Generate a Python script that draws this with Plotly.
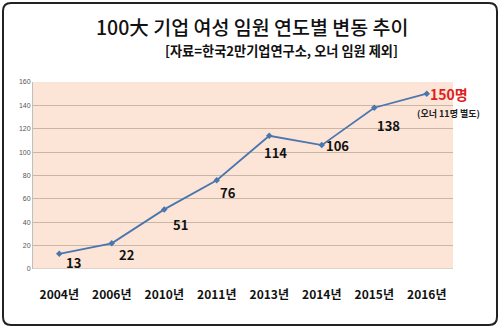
import plotly.graph_objects as go

years = ["2004년", "2006년", "2010년", "2011년", "2013년", "2014년", "2015년", "2016년"]
counts = [13, 22, 51, 76, 114, 106, 138, 150]
label_texts = ["13", "22", "51", "76", "114", "106", "138", "150명"]
title_text = "100大 기업 여성 임원 연도별 변동 추이"
subtitle_text = "[자료=한국2만기업연구소, 오너 임원 제외]"
note_text = "(오너 11명 별도)"
y_ticks = [0, 20, 40, 60, 80, 100, 120, 140, 160]

# label pixel offsets (style)
label_dx = [14, 15, 16, 11, 6, 16, 14, 22]
label_dy = [9, 11, 15, 12, 17, 0, 18, 0]

W, H = 500, 328
L, R, T, B = 33, 47, 82, 59
pw, ph = W - L - R, H - T - B

fig = go.Figure()
fig.add_trace(go.Scatter(
    x=list(range(len(years))), y=counts, mode="lines+markers",
    line=dict(color="#4A76B0", width=1.8),
    marker=dict(symbol="diamond", size=5, color="#4A76B0"),
    hoverinfo="skip", showlegend=False,
))

annotations = []
for i, (v, t) in enumerate(zip(counts, label_texts)):
    last = i == len(counts) - 1
    annotations.append(dict(
        x=i, y=v, xref="x", yref="y", text=t, showarrow=False,
        xshift=label_dx[i], yshift=-label_dy[i],
        font=dict(family="Noto Sans CJK KR", size=14 if last else 13,
                  color="#E02020" if last else "#111111", weight="bold"),
    ))
annotations.append(dict(
    x=len(counts) - 1, y=counts[-1], xref="x", yref="y", text=note_text,
    showarrow=False, xshift=22, yshift=-20,
    font=dict(family="Noto Sans CJK KR", size=9, color="#222222", weight="bold"),
))
annotations.append(dict(
    x=(252 - L) / pw, y=(H - B - 27) / ph, xref="paper", yref="paper",
    xanchor="center", yanchor="middle",
    text=title_text, showarrow=False,
    font=dict(family="Noto Sans CJK KR", size=19.5, color="#111111", weight=500),
))
annotations.append(dict(
    x=(281 - L) / pw, y=(H - B - 50) / ph, xref="paper", yref="paper",
    xanchor="center", yanchor="middle",
    text=subtitle_text, showarrow=False,
    font=dict(family="Noto Sans CJK KR", size=13.2, color="#111111", weight="bold"),
))

# rounded outer frame
x0p, x1p = (3 - L) / pw, (497 - L) / pw
y0p, y1p = (H - B - 325) / ph, (H - B - 3) / ph
rx, ry = 8 / pw, 8 / ph
path = (f"M {x0p+rx},{y1p} L {x1p-rx},{y1p} Q {x1p},{y1p} {x1p},{y1p-ry} "
        f"L {x1p},{y0p+ry} Q {x1p},{y0p} {x1p-rx},{y0p} L {x0p+rx},{y0p} "
        f"Q {x0p},{y0p} {x0p},{y0p+ry} L {x0p},{y1p-ry} Q {x0p},{y1p} {x0p+rx},{y1p} Z")

fig.update_layout(
    width=W, height=H, margin=dict(l=L, r=R, t=T, b=B),
    paper_bgcolor="white", plot_bgcolor="#FCE5D6",
    annotations=annotations,
    shapes=[dict(type="path", path=path, xref="paper", yref="paper",
                 line=dict(color="#222222", width=2), layer="above")],
    xaxis=dict(range=[-0.5, len(years) - 0.5], tickmode="array",
               tickvals=list(range(len(years))), ticktext=years,
               showgrid=False, zeroline=False, showline=False, ticks="",
               tickfont=dict(family="Noto Sans CJK KR", size=12, color="#111111", weight="bold"),
               ticklabelstandoff=17),
    yaxis=dict(range=[0, 160], tickvals=y_ticks, showgrid=True,
               gridcolor="#C9B7A6", gridwidth=1, zeroline=False,
               showline=True, linecolor="#BFBFBF", linewidth=1, ticks="",
               tickfont=dict(family="Liberation Sans", size=7, color="#555555")),
    font=dict(family="Noto Sans CJK KR"),
)
fig.add_shape(type="line", xref="paper", yref="y", x0=0, x1=1, y0=0, y1=0,
              line=dict(color="#BFBFBF", width=1), layer="below")

fig.write_html("out.html")
